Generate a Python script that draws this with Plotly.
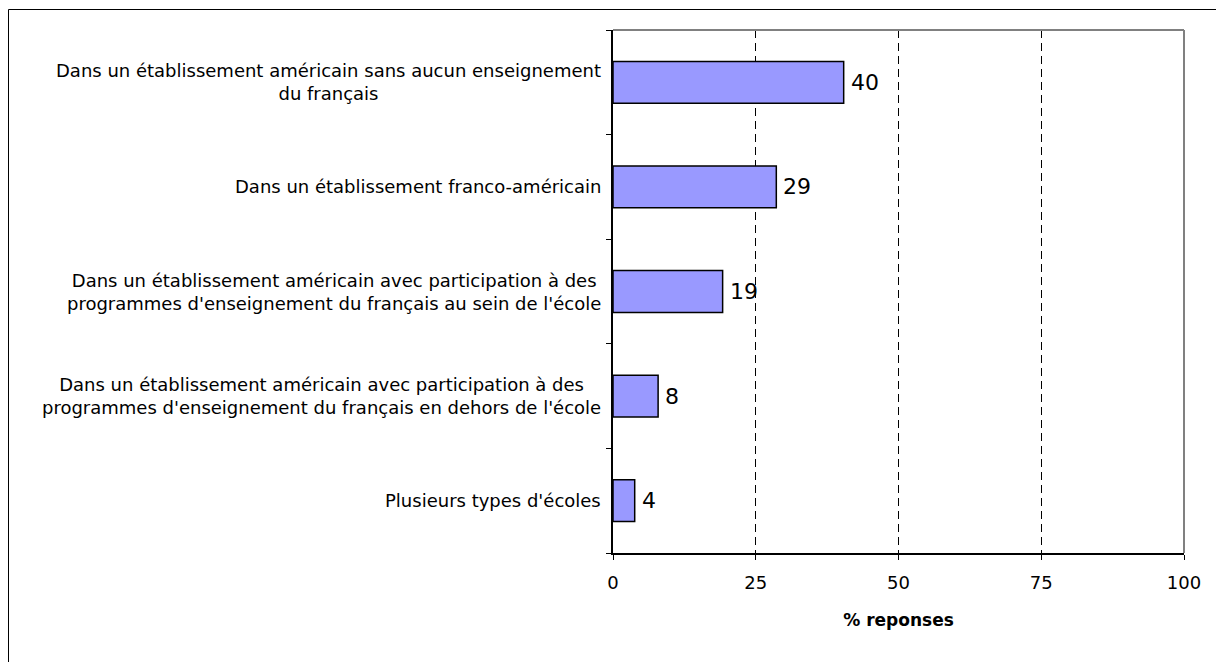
import plotly.graph_objects as go

categories = [
    "Dans un établissement américain sans aucun enseignement<br>du français",
    "Dans un établissement franco-américain",
    "Dans un établissement américain avec participation à des<br>programmes d'enseignement du français au sein de l'école",
    "Dans un établissement américain avec participation à des<br>programmes d'enseignement du français en dehors de l'école",
    "Plusieurs types d'écoles",
]
values = [40.4, 28.6, 19.2, 7.9, 3.8]
value_labels = ["40", "29", "19", "8", "4"]
x_ticks = [0, 25, 50, 75, 100]
x_title = "% reponses"

FONT = "DejaVu Sans, Liberation Sans, Arial, sans-serif"

W, H = 1216, 654
ML, MR, MT, MB = 605, 40, 22, 109
PW, PH = W - ML - MR, H - MT - MB

fig = go.Figure()
fig.add_trace(go.Bar(
    y=list(range(len(categories))),
    x=values,
    orientation="h",
    marker=dict(color="#9999FF", line=dict(color="black", width=1.5)),
    width=0.4,
    hoverinfo="skip",
))

for i, (v, lab) in enumerate(zip(values, value_labels)):
    fig.add_annotation(
        x=v, xref="x", y=i, yref="y", text=lab, showarrow=False,
        xanchor="left", yanchor="middle", xshift=5,
        font=dict(family=FONT, size=22, color="black"),
    )

for i, c in enumerate(categories):
    fig.add_annotation(
        x=0, xref="paper", y=i, yref="y",
        text=c, showarrow=False, xanchor="right", yanchor="middle",
        align="center", xshift=-10,
        font=dict(family=FONT, size=18, color="black"),
    )

# plot area top/right border
fig.add_shape(type="line", xref="paper", yref="paper", x0=0, x1=1, y0=1, y1=1,
              line=dict(color="#808080", width=2))
fig.add_shape(type="line", xref="paper", yref="paper", x0=1, x1=1, y0=0, y1=1,
              line=dict(color="#808080", width=2))
# outer figure border (left and top edges visible)
fig.add_shape(type="rect", xref="paper", yref="paper",
              x0=(0.5 - ML) / PW, x1=2, y0=-1, y1=(H - MB - 1.5) / PH,
              line=dict(color="black", width=1))

fig.update_layout(
    width=W, height=H,
    margin=dict(l=ML, r=MR, t=MT, b=MB),
    plot_bgcolor="white", paper_bgcolor="white",
    showlegend=False,
    font=dict(family=FONT, color="black"),
    xaxis=dict(
        range=[0, 100], tickvals=x_ticks, ticktext=[str(t) for t in x_ticks],
        showgrid=True, gridcolor="black", gridwidth=1, griddash="8px,5px",
        zeroline=False, showline=True, linecolor="black", linewidth=1.5,
        ticks="outside", ticklen=5, tickcolor="black",
        ticklabelstandoff=8,
        tickfont=dict(family=FONT, size=18, color="black"),
        title=dict(text="<b>" + x_title + "</b>", standoff=22,
                   font=dict(family=FONT, size=17, color="black")),
        fixedrange=True,
    ),
    yaxis=dict(
        type="category", autorange="reversed",
        tickvals=list(range(len(categories))),
        showticklabels=False, showgrid=False, zeroline=False,
        showline=True, linecolor="black", linewidth=1.5,
        ticks="outside", ticklen=5, tickcolor="black", tickson="boundaries",
        fixedrange=True,
    ),
)

fig.write_html("out.html")
